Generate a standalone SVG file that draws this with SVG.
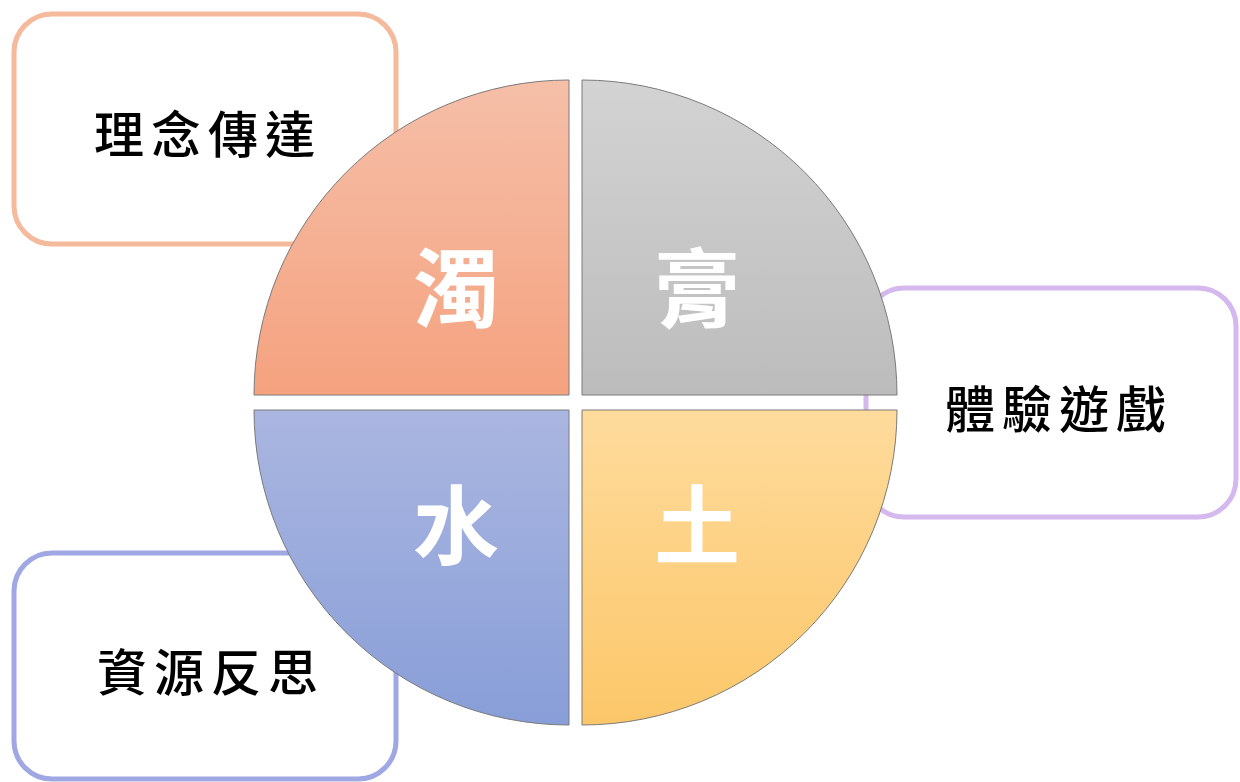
<svg xmlns="http://www.w3.org/2000/svg" width="1240" height="782" viewBox="0 0 1240 782">
<style>
.box{fill:#ffffff;stroke-width:5}
.lbl{font-family:"Noto Sans CJK TC","Noto Sans CJK SC",sans-serif;font-size:50px;font-weight:500;fill:#000000;text-anchor:middle;letter-spacing:7px}
.big{font-family:"Noto Sans CJK TC","Noto Sans CJK SC",sans-serif;font-size:86px;font-weight:700;fill:#ffffff;text-anchor:middle}
.q{stroke:#7a7a7a;stroke-width:1}
</style>
<defs>
<linearGradient id="gTL" x1="0" y1="0" x2="0" y2="1"><stop offset="0" stop-color="#f5bfa8"/><stop offset="1" stop-color="#f5a27f"/></linearGradient>
<linearGradient id="gTR" x1="0" y1="0" x2="0" y2="1"><stop offset="0" stop-color="#d3d3d3"/><stop offset="1" stop-color="#bcbcbc"/></linearGradient>
<linearGradient id="gBL" x1="0" y1="0" x2="0" y2="1"><stop offset="0" stop-color="#aab6e0"/><stop offset="1" stop-color="#889ed8"/></linearGradient>
<linearGradient id="gBR" x1="0" y1="0" x2="0" y2="1"><stop offset="0" stop-color="#fedb9c"/><stop offset="1" stop-color="#fcc769"/></linearGradient>
</defs>
<rect width="1240" height="782" fill="#ffffff"/>
<g id="box-idea"><rect class="box" x="14" y="14" width="382" height="230" rx="38" stroke="#f5b99c"/><text class="lbl" x="208" y="153">理念傳達</text></g>
<g id="box-game"><rect class="box" x="866" y="288" width="370" height="229" rx="38" stroke="#d4b8ee"/><text class="lbl" x="1059" y="428">體驗遊戲</text></g>
<g id="box-reflect"><rect class="box" x="14" y="553" width="382" height="226" rx="38" stroke="#9fa8e3"/><text class="lbl" x="211" y="691">資源反思</text></g>
<g id="connectors"></g>
<g id="q-zhuo"><path class="q" d="M569,395 L254,395 A315,315 0 0 1 569,80 Z" fill="url(#gTL)"/><text class="big" x="456" y="321">濁</text></g>
<g id="q-gao"><path class="q" d="M582,395 L582,80 A315,315 0 0 1 897,395 Z" fill="url(#gTR)"/><text class="big" x="697" y="321">膏</text></g>
<g id="q-shui"><path class="q" d="M569,410 L569,725 A315,315 0 0 1 254,410 Z" fill="url(#gBL)"/><text class="big" x="456" y="558">水</text></g>
<g id="q-tu"><path class="q" d="M582,410 L897,410 A315,315 0 0 1 582,725 Z" fill="url(#gBR)"/><text class="big" x="697" y="558">土</text></g>
</svg>
